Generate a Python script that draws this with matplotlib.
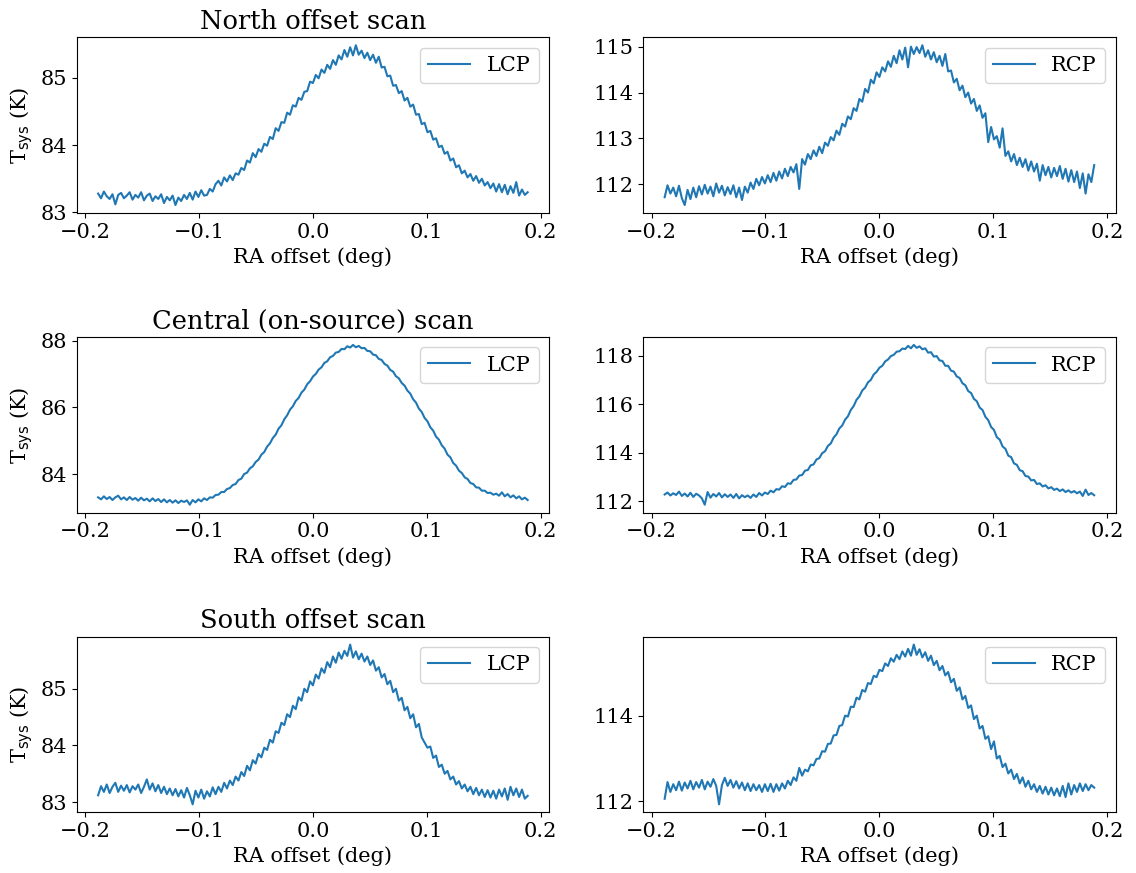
import numpy as np
import matplotlib
matplotlib.use("Agg")
import matplotlib.pyplot as plt

plt.rcParams["font.family"] = "DejaVu Serif"
plt.rcParams["font.size"] = 15

# RA offset samples along each drift scan (deg)
ra = np.linspace(-0.1885, 0.1885, 151)

# North offset scan, system temperature (K)
north_lcp = [83.28, 83.21, 83.31, 83.24, 83.20, 83.27, 83.12, 83.26, 83.29, 83.21,
             83.25, 83.30, 83.19, 83.26, 83.22, 83.30, 83.18, 83.25, 83.28, 83.17,
             83.24, 83.20, 83.27, 83.14, 83.23, 83.18, 83.25, 83.11, 83.22, 83.17,
             83.26, 83.20, 83.29, 83.19, 83.31, 83.23, 83.33, 83.25, 83.26, 83.35,
             83.31, 83.42, 83.47, 83.40, 83.52, 83.46, 83.55, 83.48, 83.58, 83.56,
             83.66, 83.63, 83.77, 83.74, 83.88, 83.82, 83.94, 83.90, 84.02, 83.99,
             84.12, 84.09, 84.25, 84.21, 84.34, 84.33, 84.48, 84.45, 84.59, 84.57,
             84.70, 84.67, 84.79, 84.80, 84.94, 84.92, 85.04, 84.99, 85.12, 85.07,
             85.19, 85.13, 85.26, 85.19, 85.33, 85.27, 85.41, 85.31, 85.45, 85.33,
             85.48, 85.34, 85.40, 85.29, 85.37, 85.26, 85.34, 85.22, 85.31, 85.15,
             85.16, 85.02, 85.03, 84.88, 84.89, 84.77, 84.80, 84.66, 84.70, 84.57,
             84.60, 84.45, 84.46, 84.31, 84.33, 84.19, 84.21, 84.08, 84.10, 83.97,
             83.99, 83.87, 83.90, 83.77, 83.80, 83.67, 83.70, 83.58, 83.62, 83.52,
             83.57, 83.47, 83.54, 83.44, 83.50, 83.40, 83.45, 83.36, 83.43, 83.31,
             83.42, 83.30, 83.41, 83.27, 83.39, 83.29, 83.45, 83.25, 83.34, 83.26,
             83.30]
north_rcp = [111.72, 111.98, 111.80, 111.93, 111.74, 111.97, 111.70, 111.55, 111.88, 111.68,
             111.93, 111.72, 111.96, 111.78, 111.99, 111.80, 111.95, 111.74, 112.02, 111.82,
             111.97, 111.76, 111.94, 111.79, 111.98, 111.72, 111.93, 111.66, 111.95, 111.82,
             112.04, 111.90, 112.12, 111.98, 112.16, 112.02, 112.20, 112.05, 112.25, 112.08,
             112.28, 112.13, 112.34, 112.18, 112.38, 112.26, 112.44, 111.90, 112.55, 112.43,
             112.66, 112.55, 112.74, 112.62, 112.82, 112.68, 112.91, 112.84, 113.03, 112.96,
             113.17, 113.08, 113.32, 113.26, 113.48, 113.42, 113.66, 113.60, 113.86, 113.80,
             114.08, 114.00, 114.28, 114.20, 114.44, 114.34, 114.55, 114.46, 114.68, 114.56,
             114.80, 114.64, 114.92, 114.72, 114.98, 114.55, 115.00, 114.84, 114.99, 114.86,
             115.03, 114.78, 114.92, 114.72, 114.88, 114.66, 114.80, 114.58, 114.84, 114.46,
             114.48, 114.22, 114.30, 114.05, 114.15, 113.90, 114.00, 113.76, 113.86, 113.60,
             113.72, 113.45, 113.55, 112.92, 113.25, 112.98, 113.05, 112.80, 113.22, 112.62,
             112.72, 112.50, 112.66, 112.42, 112.58, 112.38, 112.55, 112.30, 112.50, 112.28,
             112.45, 112.08, 112.42, 112.20, 112.38, 112.15, 112.36, 112.18, 112.40, 112.12,
             112.34, 112.06, 112.31, 112.05, 112.28, 111.92, 112.24, 111.80, 112.22, 112.05,
             112.42]

# Central (on-source) scan
central_lcp = [83.30, 83.24, 83.33, 83.25, 83.31, 83.22, 83.30, 83.35, 83.24, 83.30,
               83.22, 83.31, 83.23, 83.28, 83.20, 83.29, 83.21, 83.26, 83.18, 83.27,
               83.19, 83.25, 83.16, 83.24, 83.15, 83.22, 83.14, 83.21, 83.13, 83.20,
               83.16, 83.21, 83.08, 83.22, 83.15, 83.24, 83.18, 83.27, 83.22, 83.30,
               83.29, 83.37, 83.38, 83.46, 83.46, 83.55, 83.58, 83.67, 83.70, 83.82,
               83.86, 84.00, 84.04, 84.17, 84.23, 84.36, 84.43, 84.58, 84.66, 84.82,
               84.92, 85.08, 85.18, 85.36, 85.46, 85.64, 85.76, 85.93, 86.03, 86.19,
               86.28, 86.44, 86.53, 86.69, 86.78, 86.92, 87.00, 87.13, 87.20, 87.33,
               87.38, 87.50, 87.54, 87.64, 87.66, 87.75, 87.74, 87.83, 87.79, 87.87,
               87.80, 87.84, 87.77, 87.78, 87.69, 87.68, 87.58, 87.56, 87.45, 87.42,
               87.30, 87.25, 87.12, 87.07, 86.93, 86.87, 86.73, 86.65, 86.50, 86.41,
               86.24, 86.14, 85.96, 85.86, 85.68, 85.58, 85.40, 85.30, 85.12, 85.03,
               84.86, 84.76, 84.58, 84.50, 84.33, 84.25, 84.10, 84.03, 83.90, 83.85,
               83.73, 83.70, 83.60, 83.59, 83.50, 83.50, 83.43, 83.44, 83.38, 83.41,
               83.35, 83.45, 83.33, 83.40, 83.30, 83.36, 83.27, 83.33, 83.24, 83.29,
               83.22]
central_rcp = [112.28, 112.36, 112.24, 112.33, 112.26, 112.40, 112.22, 112.32, 112.20, 112.35,
               112.18, 112.31, 112.24, 112.12, 111.86, 112.38, 112.15, 112.30, 112.20, 112.34,
               112.16, 112.29, 112.18, 112.28, 112.14, 112.30, 112.12, 112.25, 112.17, 112.24,
               112.14, 112.28, 112.18, 112.34, 112.24, 112.36, 112.30, 112.44, 112.37, 112.50,
               112.48, 112.62, 112.59, 112.74, 112.72, 112.88, 112.90, 113.06, 113.08, 113.26,
               113.29, 113.48, 113.52, 113.72, 113.78, 113.98, 114.06, 114.28, 114.38, 114.62,
               114.76, 115.00, 115.12, 115.36, 115.50, 115.76, 115.92, 116.18, 116.32, 116.56,
               116.68, 116.90, 117.00, 117.22, 117.33, 117.50, 117.58, 117.76, 117.84, 117.98,
               118.03, 118.16, 118.18, 118.29, 118.27, 118.40, 118.30, 118.44, 118.32, 118.38,
               118.26, 118.30, 118.12, 118.14, 117.96, 117.98, 117.80, 117.78, 117.58, 117.58,
               117.38, 117.34, 117.14, 117.08, 116.86, 116.78, 116.54, 116.46, 116.22, 116.12,
               115.86, 115.76, 115.48, 115.34, 115.06, 114.94, 114.64, 114.54, 114.26, 114.16,
               113.88, 113.82, 113.56, 113.50, 113.28, 113.24, 113.04, 113.02, 112.86, 112.88,
               112.71, 112.74, 112.61, 112.66, 112.53, 112.58, 112.47, 112.52, 112.42, 112.49,
               112.38, 112.45, 112.36, 112.42, 112.33, 112.40, 112.22, 112.48, 112.26, 112.34,
               112.25]

# South offset scan
south_lcp = [83.12, 83.28, 83.18, 83.31, 83.16, 83.27, 83.34, 83.18, 83.29, 83.20,
             83.30, 83.17, 83.28, 83.22, 83.31, 83.16, 83.27, 83.40, 83.22, 83.33,
             83.19, 83.30, 83.16, 83.27, 83.14, 83.24, 83.12, 83.23, 83.10, 83.21,
             83.08, 83.25, 83.12, 82.96, 83.20, 83.08, 83.22, 83.06, 83.19, 83.10,
             83.26, 83.14, 83.27, 83.18, 83.34, 83.24, 83.38, 83.30, 83.45, 83.38,
             83.53, 83.46, 83.64, 83.56, 83.74, 83.68, 83.85, 83.79, 83.96, 83.92,
             84.10, 84.05, 84.25, 84.22, 84.40, 84.36, 84.55, 84.50, 84.70, 84.64,
             84.85, 84.79, 85.00, 84.94, 85.13, 85.06, 85.25, 85.18, 85.36, 85.28,
             85.47, 85.38, 85.57, 85.46, 85.64, 85.53, 85.67, 85.58, 85.78, 85.55,
             85.66, 85.52, 85.62, 85.48, 85.57, 85.42, 85.50, 85.32, 85.38, 85.20,
             85.26, 85.08, 85.14, 84.94, 85.00, 84.79, 84.84, 84.62, 84.68, 84.48,
             84.55, 84.32, 84.38, 84.14, 84.05, 83.96, 83.98, 83.78, 83.82, 83.62,
             83.66, 83.50, 83.55, 83.40, 83.45, 83.31, 83.37, 83.24, 83.31, 83.19,
             83.27, 83.14, 83.25, 83.12, 83.22, 83.09, 83.21, 83.08, 83.20, 83.06,
             83.22, 83.10, 83.24, 83.04, 83.27, 83.12, 83.24, 83.09, 83.22, 83.06,
             83.11]
south_rcp = [112.06, 112.45, 112.22, 112.40, 112.26, 112.46, 112.25, 112.44, 112.30, 112.48,
             112.28, 112.45, 112.32, 112.50, 112.28, 112.46, 112.34, 112.52, 112.36, 111.93,
             112.38, 112.55, 112.36, 112.50, 112.32, 112.47, 112.30, 112.44, 112.26, 112.42,
             112.24, 112.40, 112.26, 112.38, 112.22, 112.40, 112.24, 112.41, 112.22, 112.40,
             112.25, 112.42, 112.30, 112.48, 112.38, 112.56, 112.48, 112.78, 112.60, 112.74,
             112.70, 112.86, 112.84, 112.99, 113.00, 113.17, 113.16, 113.34, 113.35, 113.54,
             113.55, 113.76, 113.78, 114.00, 113.98, 114.21, 114.20, 114.42, 114.38, 114.60,
             114.56, 114.76, 114.74, 114.93, 114.90, 115.07, 115.04, 115.22, 115.16, 115.34,
             115.26, 115.42, 115.32, 115.50, 115.38, 115.56, 115.40, 115.66, 115.42, 115.55,
             115.36, 115.48, 115.28, 115.40, 115.18, 115.28, 115.06, 115.16, 114.94, 115.02,
             114.78, 114.86, 114.58, 114.66, 114.38, 114.46, 114.18, 114.24, 113.92, 114.00,
             113.70, 113.76, 113.46, 113.52, 113.22, 113.40, 113.00, 113.06, 112.80, 112.88,
             112.65, 112.74, 112.52, 112.64, 112.42, 112.56, 112.34, 112.48, 112.28, 112.40,
             112.22, 112.36, 112.18, 112.34, 112.16, 112.32, 112.14, 112.30, 112.12, 112.36,
             112.10, 112.42, 112.16, 112.38, 112.22, 112.42, 112.24, 112.40, 112.26, 112.38,
             112.32]

titles = ["North offset scan", "Central (on-source) scan", "South offset scan"]
scans = [(north_lcp, north_rcp), (central_lcp, central_rcp), (south_lcp, south_rcp)]

fig, axes = plt.subplots(3, 2, figsize=(11.36, 8.73), dpi=100)
fig.subplots_adjust(left=0.0675, right=0.9821, top=0.9573, bottom=0.0695,
                    wspace=0.199, hspace=0.705)

for row, (lcp, rcp) in enumerate(scans):
    ax = axes[row, 0]
    ax.plot(ra, lcp, label="LCP")
    ax.set_title(titles[row], fontsize=18.5)
    ax.set_xlabel("RA offset (deg)")
    ax.set_ylabel(r"T$_{\rm sys}$ (K)")
    ax.legend(loc="upper right")

    ax = axes[row, 1]
    ax.plot(ra, rcp, label="RCP")
    ax.set_xlabel("RA offset (deg)")
    ax.legend(loc="upper right")

fig.savefig("out.png", dpi=100)
